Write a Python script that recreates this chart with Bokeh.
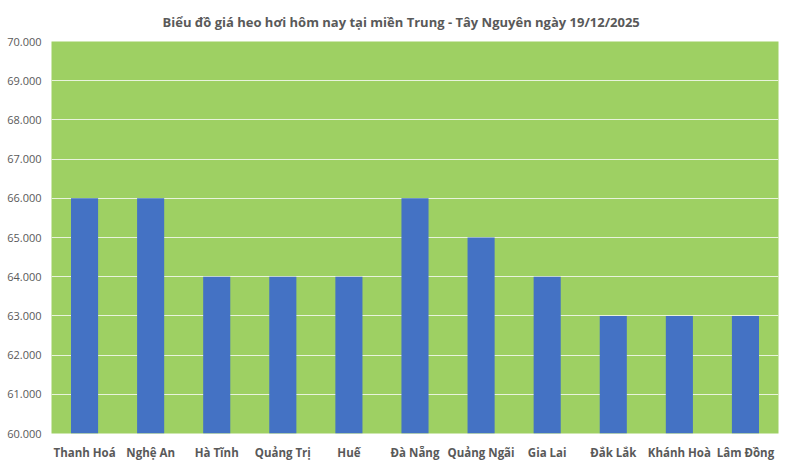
from bokeh.plotting import figure
from bokeh.models import ColumnDataSource, FixedTicker, Range1d
from bokeh.embed import file_html
from bokeh.resources import INLINE

provinces = ["Thanh Hoá", "Nghệ An", "Hà Tĩnh", "Quảng Trị", "Huế", "Đà Nẵng",
             "Quảng Ngãi", "Gia Lai", "Đắk Lắk", "Khánh Hoà", "Lâm Đồng"]
prices = [66000, 66000, 64000, 64000, 64000, 66000, 65000, 64000, 63000, 63000, 63000]
y_ticks = [60000, 61000, 62000, 63000, 64000, 65000, 66000, 67000, 68000, 69000, 70000]
y_tick_labels = ["60.000", "61.000", "62.000", "63.000", "64.000", "65.000",
                 "66.000", "67.000", "68.000", "69.000", "70.000"]
title_text = "Biểu đồ giá heo hơi hôm nay tại miền Trung - Tây Nguyên ngày 19/12/2025"

src = ColumnDataSource(dict(x=provinces, top=prices, bottom=[60000] * len(prices)))

p = figure(x_range=provinces, y_range=Range1d(60000, 70000), width=800, height=467,
           output_backend="svg", toolbar_location=None, tools="",
           min_border_left=51, min_border_right=22, min_border_bottom=34, min_border_top=41)

p.title.text = title_text
p.title.align = "left"
p.title.offset = 111
p.title.text_font = "Open Sans"
p.title.text_font_size = "13px"
p.title.text_font_style = "bold"
p.title.text_color = "#595959"
p.title.standoff = 21

p.vbar(x="x", top="top", bottom="bottom", width=0.41, source=src,
       fill_color="#4472C4", line_color=None)

p.background_fill_color = "#9ED063"
p.border_fill_color = "white"
p.outline_line_color = None

p.xgrid.grid_line_color = None
p.ygrid.grid_line_color = "#E8F3DC"
p.ygrid.grid_line_width = 1

p.yaxis.ticker = FixedTicker(ticks=y_ticks)
p.yaxis.major_label_overrides = {t: l for t, l in zip(y_ticks, y_tick_labels)}
for ax in (p.xaxis[0], p.yaxis[0]):
    ax.axis_line_color = None
    ax.major_tick_line_color = None
    ax.minor_tick_line_color = None
    ax.major_tick_out = 0
    ax.major_tick_in = 0
    ax.minor_tick_out = 0
    ax.minor_tick_in = 0
    ax.major_label_text_color = "#595959"
    ax.major_label_text_font = "Open Sans"
p.yaxis.major_label_text_font_size = "11px"
p.yaxis.major_label_standoff = 10
p.xaxis.major_label_text_font_size = "11.5px"
p.xaxis.major_label_text_font_style = "bold"
p.xaxis.major_label_standoff = 11

open("out.html", "w").write(file_html(p, INLINE))
